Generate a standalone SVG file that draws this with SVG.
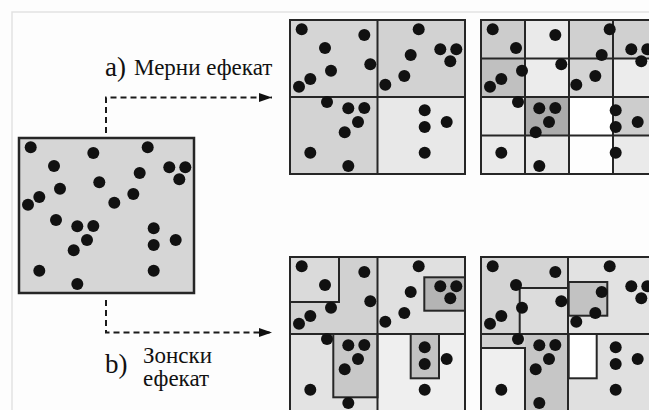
<svg xmlns="http://www.w3.org/2000/svg" width="649" height="410" viewBox="0 0 649 410">
  <style>
    .frame { fill: none; stroke: #e2e2e2; stroke-width: 1.5; }
    .edge { fill: none; stroke: #262626; stroke-width: 2; }
    .zone { stroke: #262626; stroke-width: 2; }
    .dot { fill: #111; }
    .dash { fill: none; stroke: #1a1a1a; stroke-width: 2; stroke-dasharray: 6 4; }
    .lbl { font-family: "Liberation Serif", "Times New Roman", serif; fill: #111; }
  </style>
  <defs>
    <!-- point pattern, coordinates relative to the panel's top-left corner -->
    <g id="dots" class="dot">
      <circle cx="11.7" cy="9.3" r="6"/>
      <circle cx="74.3" cy="15" r="6"/>
      <circle cx="128.7" cy="9.3" r="6"/>
      <circle cx="35" cy="28" r="6"/>
      <circle cx="150.3" cy="29.3" r="6"/>
      <circle cx="166.3" cy="29.3" r="6"/>
      <circle cx="160.3" cy="41.3" r="6"/>
      <circle cx="120.7" cy="35" r="6"/>
      <circle cx="80.3" cy="44.3" r="6"/>
      <circle cx="41" cy="50.7" r="6"/>
      <circle cx="20.3" cy="59" r="6"/>
      <circle cx="9" cy="66.7" r="6"/>
      <circle cx="114.3" cy="56" r="6"/>
      <circle cx="95.3" cy="64.7" r="6"/>
      <circle cx="37" cy="82" r="6"/>
      <circle cx="58.3" cy="88.3" r="6"/>
      <circle cx="74.3" cy="88" r="6"/>
      <circle cx="68" cy="102" r="6"/>
      <circle cx="54.7" cy="112.3" r="6"/>
      <circle cx="134.7" cy="90.3" r="6"/>
      <circle cx="134.7" cy="107" r="6"/>
      <circle cx="156.7" cy="102" r="6"/>
      <circle cx="20.3" cy="132.7" r="6"/>
      <circle cx="134.7" cy="132.7" r="6"/>
      <circle cx="58.3" cy="146" r="6"/>
    </g>
    <marker id="arrow" viewBox="0 0 13 9" refX="13" refY="4.5" markerWidth="13" markerHeight="9" markerUnits="userSpaceOnUse" orient="auto">
      <path d="M0,0 L13,4.5 L0,9 Z" fill="#111"/>
    </marker>
  </defs>

  <rect width="649" height="410" fill="#fdfdfd"/>
  <path class="frame" d="M12,410 V12 H649"/>

  <!-- source point set -->
  <g id="source">
    <rect x="19" y="138" width="175" height="155" fill="#d6d6d6" stroke="#262626" stroke-width="2.5"/>
    <use href="#dots" x="19" y="138"/>
  </g>

  <!-- a) four quadrants -->
  <g id="scale-coarse" transform="translate(290,20)">
    <rect x="0" y="0" width="87.5" height="77" fill="#d5d5d5"/>
    <rect x="87.5" y="0" width="87.5" height="77" fill="#d2d2d2"/>
    <rect x="0" y="77" width="87.5" height="77" fill="#d3d3d3"/>
    <rect x="87.5" y="77" width="87.5" height="77" fill="#e8e8e8"/>
    <path class="edge" d="M87.5,0 V154 M0,77 H175"/>
    <rect class="edge" x="0" y="0" width="175" height="154"/>
    <use href="#dots"/>
  </g>

  <!-- a) sixteen cells -->
  <g id="scale-fine" transform="translate(481,20)">
    <rect x="0" y="0" width="44" height="38.5" fill="#cccccc"/>
    <rect x="44" y="0" width="44" height="38.5" fill="#eaeaea"/>
    <rect x="88" y="0" width="44" height="38.5" fill="#d0d0d0"/>
    <rect x="132" y="0" width="44" height="38.5" fill="#d0d0d0"/>
    <rect x="0" y="38.5" width="44" height="38.5" fill="#c0c0c0"/>
    <rect x="44" y="38.5" width="44" height="38.5" fill="#ececec"/>
    <rect x="88" y="38.5" width="44" height="38.5" fill="#d4d4d4"/>
    <rect x="132" y="38.5" width="44" height="38.5" fill="#ececec"/>
    <rect x="0" y="77" width="44" height="38.5" fill="#e8e8e8"/>
    <rect x="44" y="77" width="44" height="38.5" fill="#ababab"/>
    <rect x="88" y="77" width="44" height="38.5" fill="#ffffff"/>
    <rect x="132" y="77" width="44" height="38.5" fill="#cdcdcd"/>
    <rect x="0" y="115.5" width="44" height="38.5" fill="#eaeaea"/>
    <rect x="44" y="115.5" width="44" height="38.5" fill="#e8e8e8"/>
    <rect x="88" y="115.5" width="44" height="38.5" fill="#fefefe"/>
    <rect x="132" y="115.5" width="44" height="38.5" fill="#eaeaea"/>
    <path class="edge" d="M44,0 V154 M88,0 V154 M132,0 V154 M0,38.5 H176 M0,77 H176 M0,115.5 H176"/>
    <rect class="edge" x="0" y="0" width="176" height="154"/>
    <use href="#dots"/>
  </g>

  <!-- b) quadrants with nested zones -->
  <g id="zone-coarse" transform="translate(290,257)">
    <rect x="0" y="0" width="87.5" height="77" fill="#d1d1d1"/>
    <rect x="87.5" y="0" width="87.5" height="77" fill="#e0e0e0"/>
    <rect x="0" y="77" width="87.5" height="77" fill="#e3e3e3"/>
    <rect x="87.5" y="77" width="87.5" height="77" fill="#efefef"/>
    <rect class="zone" x="0" y="0" width="49" height="45" fill="#dadada"/>
    <rect class="zone" x="134.3" y="20.3" width="40.7" height="33.4" fill="#b4b4b4"/>
    <rect class="zone" x="43.3" y="77" width="44.2" height="63.3" fill="#c8c8c8"/>
    <rect class="zone" x="120.7" y="77" width="28.3" height="44.3" fill="#c2c2c2"/>
    <path class="edge" d="M87.5,0 V154 M0,77 H175"/>
    <rect class="edge" x="0" y="0" width="175" height="154"/>
    <use href="#dots"/>
  </g>

  <!-- b) finer nested zones -->
  <g id="zone-fine" transform="translate(481,257)">
    <rect x="0" y="0" width="87" height="77" fill="#d4d4d4"/>
    <rect x="87" y="0" width="88" height="77" fill="#e2e2e2"/>
    <rect x="0" y="77" width="87" height="77" fill="#c6c6c6"/>
    <rect x="0" y="77" width="44" height="14" fill="#d0d0d0"/>
    <rect x="87" y="77" width="88" height="77" fill="#e0e0e0"/>
    <rect x="38.7" y="31" width="48.3" height="46" fill="#dcdcdc"/>
    <path class="edge" d="M38.7,28 V77 M38.7,31 H87"/>
    <rect class="zone" x="87.7" y="25" width="38.6" height="33.7" fill="#c2c2c2"/>
    <rect class="zone" x="0" y="91" width="44" height="65" fill="#efefef"/>
    <rect class="zone" x="87.7" y="77" width="28" height="44.3" fill="#ffffff"/>
    <path class="edge" d="M87,0 V154 M0,77 H176"/>
    <rect class="edge" x="0" y="0" width="176" height="154"/>
    <use href="#dots"/>
  </g>

  <!-- dashed connectors -->
  <g id="connectors">
    <path class="dash" d="M106,133 V97.5 H272" marker-end="url(#arrow)"/>
    <path class="dash" d="M106,300 V332.5 H272" marker-end="url(#arrow)"/>
  </g>

  <!-- labels -->
  <g id="label-a">
    <text class="lbl" x="105" y="76" font-size="27">a)</text>
    <text class="lbl" x="134" y="75" font-size="23">Мерни ефекат</text>
  </g>
  <g id="label-b">
    <text class="lbl" x="105" y="373" font-size="27">b)</text>
    <text class="lbl" x="143" y="363" font-size="23">Зонски</text>
    <text class="lbl" x="143" y="386" font-size="23">ефекат</text>
  </g>
</svg>
